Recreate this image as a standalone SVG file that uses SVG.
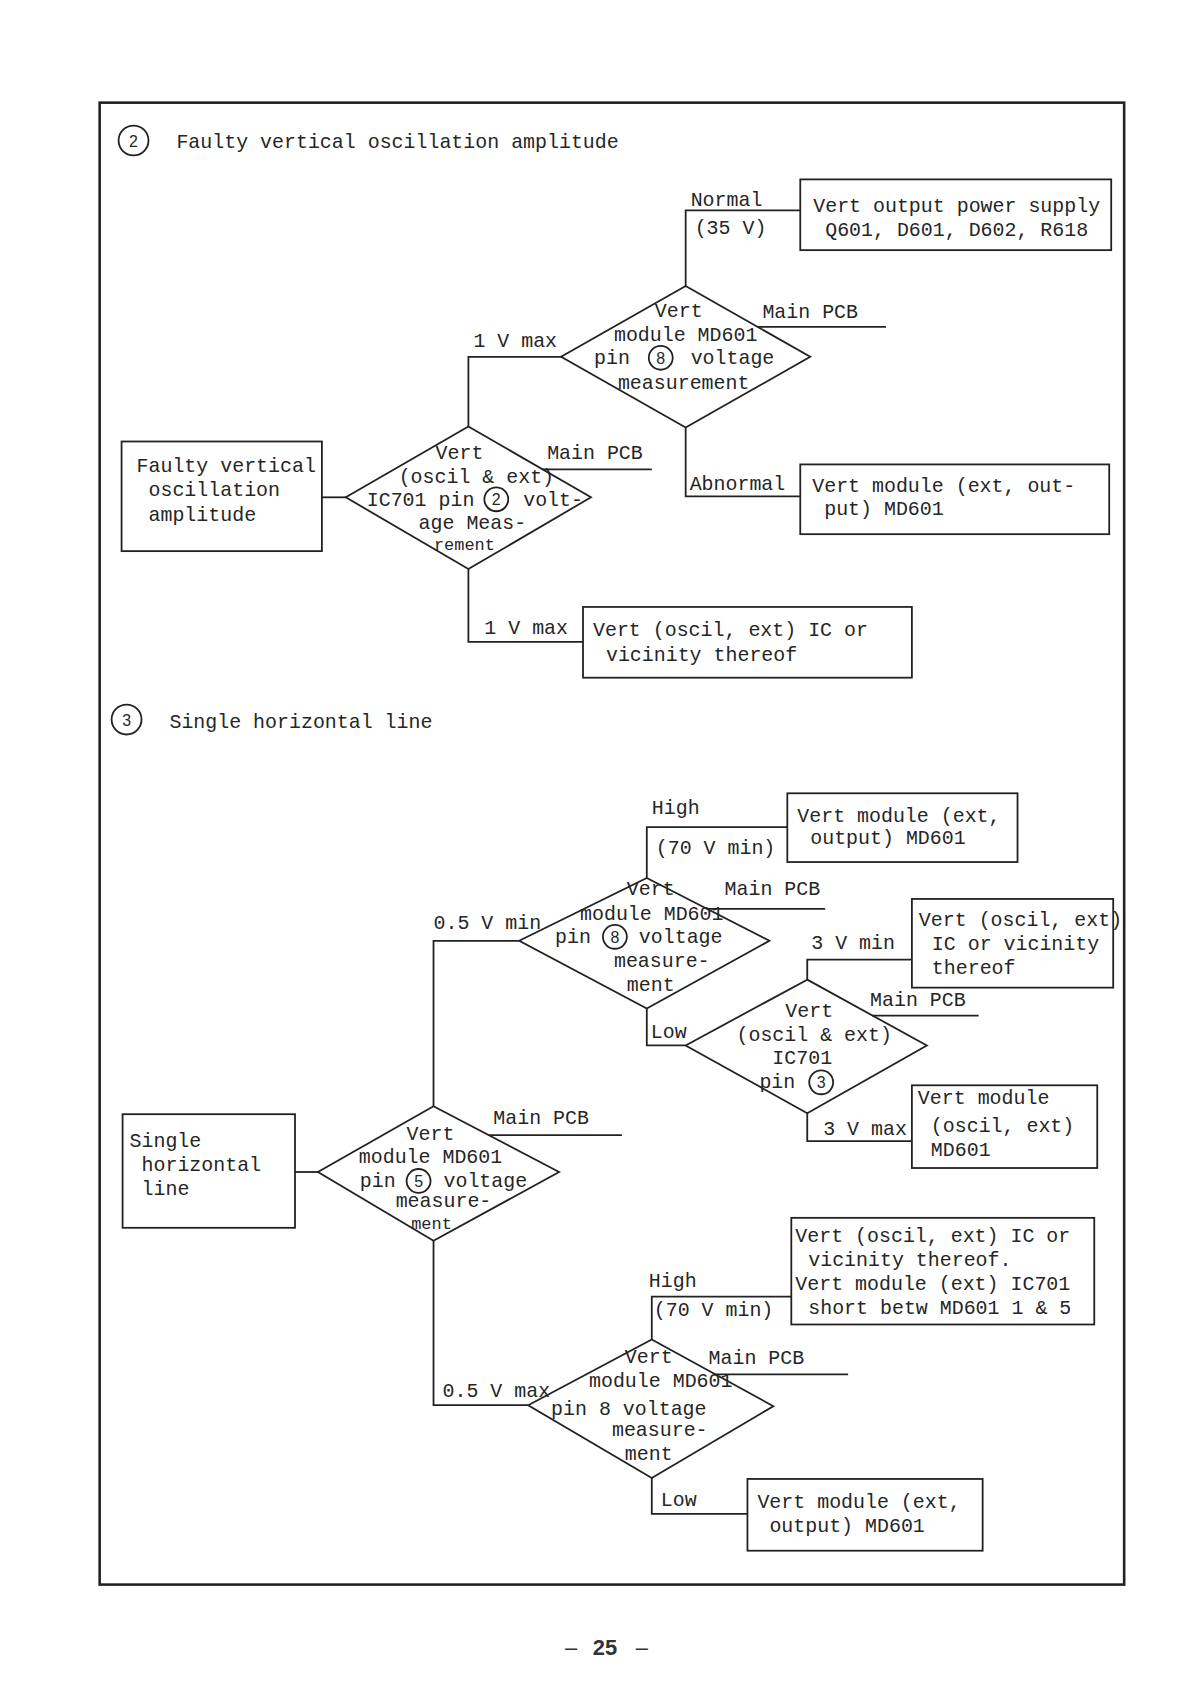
<svg xmlns="http://www.w3.org/2000/svg" width="1191" height="1685" viewBox="0 0 1191 1685">
<style>
.ln{fill:none;stroke:#222;stroke-width:1.8;stroke-linejoin:miter}
.bx{fill:none;stroke:#222;stroke-width:1.8}
.fr{fill:none;stroke:#222;stroke-width:2.6}
.t{font-family:"Liberation Mono","DejaVu Sans Mono",monospace;font-size:20px;fill:#262626}
.s{font-size:17px}
.c{text-anchor:middle}
.cn{font-family:"Liberation Sans",Arial,sans-serif;font-size:16px;fill:#262626;text-anchor:middle}
.ci{fill:none;stroke:#222;stroke-width:1.8}
.pg{font-family:"Liberation Sans",Arial,sans-serif;font-size:22px;fill:#333;text-anchor:middle}
</style>
<rect width="1191" height="1685" fill="#ffffff"/>
<g transform="scale(0.9966)">
<rect class="fr" x="100" y="103" width="1028" height="1487"/>

<g id="heading2">
<circle class="ci" cx="134" cy="141" r="15"/>
<text class="cn" x="134" y="147">2</text>
<text class="t" x="177" y="149">Faulty vertical oscillation amplitude</text>
</g>

<g id="connectors">
<polyline class="ln" points="323,499 347,499"/>
<polyline class="ln" points="470,428 470,358 563,358"/>
<polyline class="ln" points="470,571 470,644 585,644"/>
<polyline class="ln" points="688,287 688,211 803,211"/>
<polyline class="ln" points="688,429 688,498 803,498"/>
<line class="ln" x1="760" y1="328" x2="889" y2="328"/>
<line class="ln" x1="544" y1="471" x2="654" y2="471"/>
<polyline class="ln" points="296,1176 319,1176"/>
<polyline class="ln" points="435,1110 435,944 521,944"/>
<polyline class="ln" points="649,881 649,830 790,830"/>
<polyline class="ln" points="649,1012 649,1049 688,1049"/>
<polyline class="ln" points="810,983 810,963 915,963"/>
<polyline class="ln" points="810,1117 810,1145 915,1145"/>
<polyline class="ln" points="435,1245 435,1410 530,1410"/>
<polyline class="ln" points="654,1344 654,1301 794,1301"/>
<polyline class="ln" points="654,1483 654,1519 750,1519"/>
<line class="ln" x1="709" y1="912" x2="828" y2="912"/>
<line class="ln" x1="875" y1="1019" x2="982" y2="1019"/>
<line class="ln" x1="490" y1="1139" x2="624" y2="1139"/>
<line class="ln" x1="717" y1="1379" x2="851" y2="1379"/>
<text class="t" x="693" y="207">Normal</text>
<text class="t" x="697" y="235">(35 V)</text>
<text class="t" x="475" y="348">1 V max</text>
<text class="t" x="692" y="492">Abnormal</text>
<text class="t" x="486" y="636">1 V max</text>
<text class="t" x="765" y="319">Main PCB</text>
<text class="t" x="549" y="461">Main PCB</text>
<text class="t" x="654" y="817">High</text>
<text class="t" x="658" y="857">(70 V min)</text>
<text class="t" x="435" y="932">0.5 V min</text>
<text class="t" x="653" y="1042">Low</text>
<text class="t" x="814" y="952">3 V min</text>
<text class="t" x="826" y="1139">3 V max</text>
<text class="t" x="444" y="1402">0.5 V max</text>
<text class="t" x="651" y="1291">High</text>
<text class="t" x="656" y="1320">(70 V min)</text>
<text class="t" x="663" y="1511">Low</text>
<text class="t" x="727" y="898">Main PCB</text>
<text class="t" x="873" y="1009">Main PCB</text>
<text class="t" x="495" y="1128">Main PCB</text>
<text class="t" x="711" y="1369">Main PCB</text>
</g>

<g id="start2">
<rect class="bx" x="122" y="443" width="201" height="110"/>
<text class="t" x="137" y="474">Faulty vertical</text>
<text class="t" x="149" y="498">oscillation</text>
<text class="t" x="149" y="523">amplitude</text>
</g>

<g id="dec_ic701_pin2">
<polygon class="bx" points="470,428 593,499 470,571 347,499"/>
<text class="t c" x="461" y="461">Vert</text>
<text class="t c" x="478" y="485">(oscil &amp; ext)</text>
<text class="t" x="368" y="508">IC701 pin</text>
<circle class="ci" cx="498" cy="501" r="12"/>
<text class="cn" x="498" y="507">2</text>
<text class="t" x="525" y="508">volt-</text>
<text class="t c" x="474" y="531">age Meas-</text>
<text class="t c s" x="466" y="552">rement</text>
</g>

<g id="dec_md601_pin8_a">
<polygon class="bx" points="688,287 813,358 688,429 563,358"/>
<text class="t c" x="681" y="318">Vert</text>
<text class="t c" x="688" y="342">module MD601</text>
<text class="t" x="596" y="365">pin</text>
<circle class="ci" cx="663" cy="359" r="12"/>
<text class="cn" x="663" y="365">8</text>
<text class="t" x="693" y="365">voltage</text>
<text class="t c" x="686" y="390">measurement</text>
</g>

<g id="box_vert_output_supply">
<rect class="bx" x="803" y="180" width="312" height="71"/>
<text class="t" x="816" y="213">Vert output power supply</text>
<text class="t" x="828" y="237">Q601, D601, D602, R618</text>
</g>

<g id="box_vert_module_out_a">
<rect class="bx" x="803" y="466" width="310" height="70"/>
<text class="t" x="815" y="494">Vert module (ext, out-</text>
<text class="t" x="827" y="517">put)  MD601</text>
</g>

<g id="box_vert_ic_vicinity">
<rect class="bx" x="585" y="609" width="330" height="71"/>
<text class="t" x="595" y="638">Vert (oscil, ext) IC or</text>
<text class="t" x="608" y="663">vicinity thereof</text>
</g>

<g id="heading3">
<circle class="ci" cx="127" cy="722" r="15"/>
<text class="cn" x="127" y="728">3</text>
<text class="t" x="170" y="730">Single horizontal line</text>
</g>

<g id="start3">
<rect class="bx" x="123" y="1118" width="173" height="114"/>
<text class="t" x="130" y="1151">Single</text>
<text class="t" x="142" y="1175">horizontal</text>
<text class="t" x="142" y="1199">line</text>
</g>

<g id="dec_md601_pin5">
<polygon class="bx" points="435,1110 561,1176 435,1245 319,1176"/>
<text class="t c" x="432" y="1144">Vert</text>
<text class="t" x="360" y="1167">module MD601</text>
<text class="t" x="361" y="1191">pin</text>
<circle class="ci" cx="420" cy="1185" r="12"/>
<text class="cn" x="420" y="1191">5</text>
<text class="t" x="445" y="1191">voltage</text>
<text class="t c" x="445" y="1211">measure-</text>
<text class="t c s" x="433" y="1233">ment</text>
</g>

<g id="dec_md601_pin8_b">
<polygon class="bx" points="649,881 772,944 649,1012 521,944"/>
<text class="t c" x="653" y="898">Vert</text>
<text class="t" x="582" y="923">module MD601</text>
<text class="t" x="557" y="946">pin</text>
<circle class="ci" cx="617" cy="940" r="12"/>
<text class="cn" x="617" y="946">8</text>
<text class="t" x="641" y="946">voltage</text>
<text class="t c" x="664" y="970">measure-</text>
<text class="t c" x="653" y="994">ment</text>
</g>

<g id="dec_ic701_pin3">
<polygon class="bx" points="810,983 930,1049 810,1117 688,1049"/>
<text class="t c" x="812" y="1020">Vert</text>
<text class="t c" x="817" y="1045">(oscil &amp; ext)</text>
<text class="t c" x="805" y="1068">IC701</text>
<text class="t" x="762" y="1092">pin</text>
<circle class="ci" cx="824" cy="1086" r="12"/>
<text class="cn" x="824" y="1092">3</text>
</g>

<g id="dec_md601_pin8_c">
<polygon class="bx" points="654,1344 776,1411 654,1483 530,1410"/>
<text class="t c" x="651" y="1368">Vert</text>
<text class="t" x="591" y="1392">module MD601</text>
<text class="t" x="553" y="1420">pin  8  voltage</text>
<text class="t c" x="662" y="1441">measure-</text>
<text class="t c" x="651" y="1465">ment</text>
</g>

<g id="box_vert_module_out_b">
<rect class="bx" x="790" y="796" width="231" height="69"/>
<text class="t" x="800" y="825">Vert module (ext,</text>
<text class="t" x="813" y="847">output)  MD601</text>
</g>

<g id="box_vert_oscil_ic">
<rect class="bx" x="915" y="902" width="202" height="89"/>
<text class="t" x="922" y="929">Vert (oscil, ext)</text>
<text class="t" x="935" y="953">IC or vicinity</text>
<text class="t" x="935" y="977">thereof</text>
</g>

<g id="box_vert_module_oscil">
<rect class="bx" x="915" y="1089" width="186" height="83"/>
<text class="t" x="921" y="1108">Vert module</text>
<text class="t" x="934" y="1136">(oscil, ext)</text>
<text class="t" x="934" y="1160">MD601</text>
</g>

<g id="box_short">
<rect class="bx" x="794" y="1222" width="304" height="107"/>
<text class="t" x="798" y="1246">Vert (oscil, ext) IC or</text>
<text class="t" x="811" y="1270">vicinity thereof.</text>
<text class="t" x="798" y="1294">Vert module (ext) IC701</text>
<text class="t" x="811" y="1318">short betw MD601 1 &amp; 5</text>
</g>

<g id="box_vert_module_out_c">
<rect class="bx" x="750" y="1484" width="236" height="72"/>
<text class="t" x="760" y="1513">Vert module (ext,</text>
<text class="t" x="772" y="1537">output) MD601</text>
</g>

<g id="page_number">
<text class="pg" x="573" y="1661">–</text>
<text class="pg" x="607" y="1661" font-weight="bold">25</text>
<text class="pg" x="644" y="1661">–</text>
</g>
</g>
</svg>
